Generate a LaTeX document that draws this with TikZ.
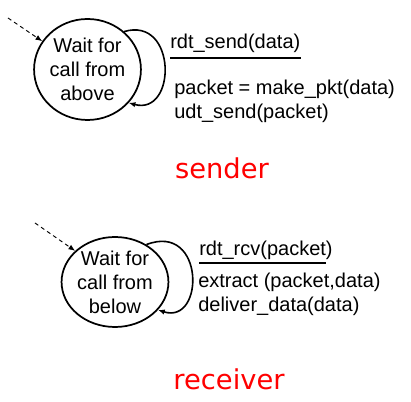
\documentclass[tikz,border=0pt]{standalone}
\usepackage{fontspec}
\setmainfont{Liberation Sans}
\newfontfamily\rolefont{DejaVu Sans}
\usepackage{tikz}
\usetikzlibrary{arrows.meta,positioning,shapes.geometric}
\tikzset{
  state/.style={ellipse,draw,line width=1.3pt,inner sep=0pt,align=center,
    font=\fontsize{15}{18}\selectfont},
  selfloop/.style={line width=1.2pt,-{Latex[length=5pt,width=4pt]}},
  start/.style={dashed,line width=0.7pt,dash pattern=on 3pt off 2.5pt,
    -{Latex[length=5pt,width=4pt]}},
  evt/.style={anchor=base west,inner sep=0pt,font=\fontsize{15}{18}\selectfont},
  act/.style={anchor=base west,inner sep=0pt,align=left,
    font=\fontsize{15}{18}\selectfont},
  bar/.style={line width=1.3pt},
  role/.style={anchor=base,inner sep=0pt,text=red,font=\rolefont\fontsize{20.5}{24}\selectfont}
}

\begin{document}
\begin{tikzpicture}[x=0.75pt,y=-0.75pt]
  \useasboundingbox (0,0) rectangle (411,402);
  % sender
  \node[state,minimum width=72.75pt,minimum height=75.75pt] (sendstate) at (87.5,69.5)
    {Wait for\\call from\\above};
  \coordinate (sendin) at (8,18);
  \draw[start] (sendin) -- (sendstate.148);
  \draw[selfloop] (sendstate.46) .. controls (177,16) and (177,116) .. (sendstate.-39);
  \node[evt] (sendev) at (170,49) {rdt\_send(data)};
  \draw[bar] (170,58) -- (sendev.east |- 0,58);
  \node[act] (sendact) at (174,119) {packet = make\_pkt(data)\\udt\_send(packet)};
  \node[role] (sender) at (222,179) {sender};
  % receiver
  \node[state,minimum width=72pt,minimum height=67.5pt] (recvstate) at (115,282)
    {Wait for\\call from\\below};
  \coordinate (recvin) at (35,223);
  \draw[start] (recvin) -- (recvstate.142);
  \draw[selfloop] (recvstate.50) .. controls (205,222) and (205,325) .. (recvstate.-33);
  \node[evt] (recvev) at (199,256) {rdt\_rcv(packet)};
  \draw[bar] (199,263) -- (326,263);
  \node[act] (recvact) at (198,312) {extract (packet,data)\\deliver\_data(data)};
  \node[role] (receiver) at (229,390) {receiver};
\end{tikzpicture}
\end{document}
